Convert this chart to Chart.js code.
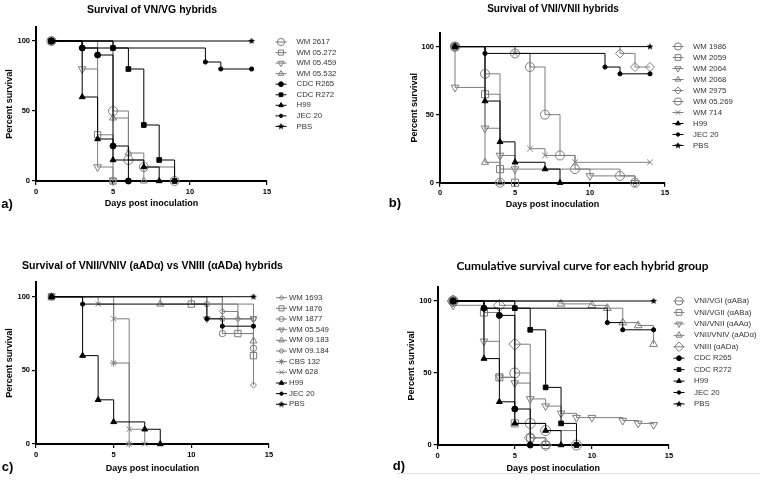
<!DOCTYPE html>
<html>
<head>
<meta charset="utf-8">
<script src="https://cdn.jsdelivr.net/npm/chart.js@4.4.0/dist/chart.umd.min.js"></script>
<style>
  body { margin: 0; background: #fff; }
  #page { position: relative; width: 760px; height: 484px; overflow: hidden; font-family: "Liberation Sans", Arial, sans-serif; }
  #page canvas { position: absolute; left: 0; top: 0; }
  .t { position: absolute; white-space: nowrap; transform: translate(-50%, -50%); font-weight: bold; color: #000; line-height: 1; }
  .rule { position: absolute; left: 396px; top: 473px; width: 364px; height: 0; border-top: 1px solid #e2e2e2; }
</style>
</head>
<body>
<div id="page">
  <canvas id="chartA" width="760" height="484"></canvas>
  <canvas id="chartB" width="760" height="484"></canvas>
  <canvas id="chartC" width="760" height="484"></canvas>
  <canvas id="chartD" width="760" height="484"></canvas>

  <div class="t" style="left:152px;top:8.5px;font-size:10.5px">Survival of VN/VG hybrids</div>
  <div class="t" style="left:553px;top:8.5px;font-size:10px">Survival of VNI/VNII hybrids</div>
  <div class="t" style="left:152.5px;top:265px;font-size:10.5px">Survival of VNII/VNIV (aADα) vs VNIII (αADa) hybrids</div>
  <div class="t" style="left:582.5px;top:266px;font-size:11.9px;font-family:Lato,sans-serif">Cumulative survival curve for each hybrid group</div>

  <div class="t" style="left:7px;top:203px;font-size:13px">a)</div>
  <div class="t" style="left:395px;top:202px;font-size:13px">b)</div>
  <div class="t" style="left:7.5px;top:466px;font-size:13px">c)</div>
  <div class="t" style="left:399px;top:465px;font-size:13px">d)</div>
  <div class="rule"></div>
</div>

<script>
const DAY_TICKS = [0, 5, 10, 15];
const PCT_TICKS = [0, 50, 100];

// [day post inoculation, % survival] -- one pair per step of the curve
// controls, same in every panel
const H99      = [[1, 100], [3, 60], [4, 30], [5, 15], [7, 10], [8, 0]];
const JEC_20   = [[1, 100], [3, 95], [11, 85], [12, 80], [14, 80]];
const PBS      = [[1, 100], [14, 100]];
const CDC_R265 = [[1, 100], [3, 95], [4, 90], [5, 25], [6, 0]];
const CDC_R272 = [[1, 100], [5, 95], [6, 80], [7, 40], [8, 15], [9, 0]];

// a) VN/VG hybrids
const WM_2617   = [[1, 100], [5, 50], [6, 15], [7, 10], [9, 0]];
const WM_05_272 = [[1, 100], [4, 33], [5, 0]];
const WM_05_459 = [[1, 100], [3, 80], [4, 10], [5, 0]];
const WM_05_532 = [[1, 100], [5, 45], [6, 20], [7, 0]];

// b) VNI/VNII hybrids
const WM_1986   = [[1, 100], [3, 80], [4, 0]];
const WM_2059   = [[1, 100], [3, 65], [4, 10], [5, 0]];
const WM_2064   = [[1, 100], [1, 70], [3, 40], [4, 20], [5, 10], [10, 5], [13, 0]];
const WM_2068   = [[1, 100], [3, 15], [4, 0]];
const WM_2975   = [[1, 100], [12, 95], [13, 85], [14, 85]];
const WM_05_269 = [[1, 100], [5, 95], [6, 85], [7, 50], [8, 20], [9, 10], [12, 5], [13, 0]];
const WM_714    = [[1, 100], [5, 95], [6, 25], [7, 20], [9, 15], [14, 15]];

// c) VNII/VNIV vs VNIII hybrids
const WM_1693   = [[1, 100], [12, 90], [13, 85], [14, 40]];
const WM_1876   = [[1, 100], [10, 95], [13, 75], [14, 60]];
const WM_1877   = [[1, 100], [12, 75], [14, 65]];
const WM_05_549 = [[1, 100], [11, 85], [14, 85]];
const WM_09_183 = [[1, 100], [8, 95], [14, 70]];
const WM_09_184 = [[1, 100], [11, 95], [12, 85], [14, 85]];
const CBS_132   = [[1, 100], [5, 55], [6, 0]];
const WM_628    = [[1, 100], [4, 95], [5, 85], [6, 10], [7, 0]];

// d) cumulative per hybrid group
const VNI_VGI   = [[1, 100], [5, 50], [6, 15], [7, 10], [9, 0]];
const VNI_VGII  = [[1, 100], [3, 92], [4, 47], [5, 15], [6, 5], [7, 0]];
const VNI_VNII  = [[1, 100], [1, 97], [3, 72], [4, 47], [5, 43], [6, 32], [7, 27], [8, 22], [9, 19], [10, 19], [12, 17], [13, 15], [14, 14]];
const VNII_VNIV = [[1, 100], [8, 98], [10, 97], [11, 95], [12, 85], [13, 83], [14, 70]];
const VNIII     = [[1, 100], [4, 97], [5, 70], [6, 5], [7, 0]];

const GREY = '#7d7d7d';

function starImage(r) {
  const c = document.createElement('canvas');
  const s = Math.ceil(r * 2 + 2);
  c.width = c.height = s;
  const g = c.getContext('2d');
  g.fillStyle = '#000';
  g.beginPath();
  for (let i = 0; i < 10; i++) {
    const a = -Math.PI / 2 + i * Math.PI / 5;
    const rr = i % 2 ? r * 0.45 : r;
    g.lineTo(s / 2 + rr * Math.cos(a), s / 2 + rr * Math.sin(a));
  }
  g.closePath();
  g.fill();
  return c;
}
const STAR = starImage(3.6);

const open = (shape, r, rot) => ({ shape, r, rot: rot || 0, fill: 'rgba(0,0,0,0)', stroke: GREY });
const solid = (shape, r) => ({ shape, r, rot: 0, fill: '#000', stroke: '#000' });

const CONTROLS = [
  ['H99', H99, solid('triangle', 3.4)],
  ['JEC 20', JEC_20, solid('circle', 2.1)],
  ['PBS', PBS, solid(STAR, 3.6)]
];

const SETS_A = [
  ['WM 2617', WM_2617, open('circle', 4.5)],
  ['WM 05.272', WM_05_272, open('rect', 4.5)],
  ['WM 05.459', WM_05_459, open('triangle', 4.5, 180)],
  ['WM 05.532', WM_05_532, open('triangle', 4)],
  ['CDC R265', CDC_R265, solid('circle', 3)],
  ['CDC R272', CDC_R272, solid('rect', 3.3)],
  ...CONTROLS
];
const SETS_B = [
  ['WM 1986', WM_1986, open('circle', 4.5)],
  ['WM 2059', WM_2059, open('rect', 5)],
  ['WM 2064', WM_2064, open('triangle', 4.5, 180)],
  ['WM 2068', WM_2068, open('triangle', 4)],
  ['WM 2975', WM_2975, open('rectRot', 4.5)],
  ['WM 05.269', WM_05_269, open('circle', 4.5)],
  ['WM 714', WM_714, open('crossRot', 4)],
  ...CONTROLS
];
const SETS_C = [
  ['WM 1693', WM_1693, open('rectRot', 3)],
  ['WM 1876', WM_1876, open('rect', 4.5)],
  ['WM 1877', WM_1877, open('circle', 3.2)],
  ['WM 05.549', WM_05_549, open('triangle', 4, 180)],
  ['WM 09.183', WM_09_183, open('triangle', 4)],
  ['WM 09.184', WM_09_184, open('circle', 2.6)],
  ['CBS 132', CBS_132, open('star', 3.6)],
  ['WM 628', WM_628, open('crossRot', 3.6)],
  ...CONTROLS
];
const SETS_D = [
  ['VNI/VGI (αABa)', VNI_VGI, open('circle', 5)],
  ['VNI/VGII (αABa)', VNI_VGII, open('rect', 5)],
  ['VNI/VNII (αAAα)', VNI_VNII, open('triangle', 4.5, 180)],
  ['VNII/VNIV (aADα)', VNII_VNIV, open('triangle', 4.5)],
  ['VNIII (αADa)', VNIII, open('rectRot', 6)],
  ['CDC R265', CDC_R265, solid('circle', 3)],
  ['CDC R272', CDC_R272, solid('rect', 3.3)],
  ...CONTROLS
];

// legend drawn at a fixed spot right of each plot: line segment, marker, label
const sideLegend = {
  id: 'sideLegend',
  afterDraw(chart, args, o) {
    const ctx = chart.ctx;
    ctx.save();
    ctx.font = '7.8px "Liberation Sans", Arial, sans-serif';
    ctx.textBaseline = 'middle';
    chart.data.datasets.forEach((ds, i) => {
      const y = o.y0 + i * o.step;
      ctx.lineWidth = 1;
      ctx.strokeStyle = ds.borderColor;
      ctx.beginPath();
      ctx.moveTo(o.x - 5.5, y);
      ctx.lineTo(o.x + 5.5, y);
      ctx.stroke();
      ctx.fillStyle = ds.pointBackgroundColor;
      ctx.strokeStyle = ds.pointBorderColor;
      Chart.helpers.drawPoint(ctx, {
        pointStyle: ds.pointStyle, rotation: ds.pointRotation,
        radius: ds.pointRadius * 0.8, borderWidth: 1
      }, o.x, y);
      ctx.fillStyle = '#333';
      ctx.fillText(ds.label, o.tx, y);
    });
    ctx.restore();
  }
};

function toDataset([label, pts, st], i, all) {
  const ctrl = st.stroke === '#000';
  return {
    label,
    data: pts.map(([x, y]) => ({ x, y })),
    order: all.length - i,   // later series (controls) painted on top
    stepped: 'before',
    fill: false,
    clip: false,
    borderColor: ctrl ? '#000' : GREY,
    borderWidth: 1,
    pointStyle: st.shape,
    pointRadius: st.r,
    pointRotation: st.rot,
    pointBackgroundColor: st.fill,
    pointBorderColor: st.stroke,
    pointBorderWidth: 1
  };
}

function axisFont(size) {
  return { family: '"Liberation Sans", Arial, sans-serif', size, weight: 'bold' };
}

function panel(id, sets, g, leg) {
  new Chart(document.getElementById(id), {
    type: 'line',
    data: { datasets: sets.map(toDataset) },
    options: {
      responsive: false,
      animation: false,
      events: [],
      layout: { padding: { left: g.axisLeft, top: g.top, right: 760 - g.right, bottom: 484 - g.bottom - g.xh } },
      scales: {
        x: {
          type: 'linear', min: 0, max: 15,
          afterBuildTicks: s => { s.ticks = DAY_TICKS.map(v => ({ value: v })); },
          afterFit: s => { s.height = g.xh; },
          ticks: { font: axisFont(7.5), color: '#000', padding: 2, maxRotation: 0 },
          grid: { drawOnChartArea: false, tickLength: 4, color: '#000', lineWidth: 1.2 },
          border: { color: '#000', width: 2 },
          title: { display: true, text: 'Days post inoculation', font: axisFont(9), color: '#000', padding: { top: 4, bottom: 4 } }
        },
        y: {
          min: 0, max: 110,
          afterBuildTicks: s => { s.ticks = PCT_TICKS.map(v => ({ value: v })); },
          afterFit: s => { s.width = g.left - g.axisLeft; },
          ticks: { font: axisFont(7.5), color: '#000', padding: 2 },
          grid: { drawOnChartArea: false, tickLength: 4, color: '#000', lineWidth: 1.2 },
          border: { color: '#000', width: 2 },
          title: { display: true, text: 'Percent survival', font: axisFont(9), color: '#000', padding: { top: 4, bottom: 4 } }
        }
      },
      plugins: {
        legend: { display: false },
        tooltip: { enabled: false },
        sideLegend: leg
      }
    },
    plugins: [sideLegend]
  });
}

panel('chartA', SETS_A, { axisLeft: 0.6, left: 36, right: 267, top: 27, bottom: 181, xh: 32.4 },
  { x: 281, tx: 296.5, y0: 42, step: 10.55 });
panel('chartB', SETS_B, { axisLeft: 405.6, left: 440, right: 665, top: 33, bottom: 182.7, xh: 31 },
  { x: 678, tx: 693, y0: 46.5, step: 11.0 });
panel('chartC', SETS_C, { axisLeft: 0.6, left: 36, right: 269, top: 282, bottom: 444, xh: 33.7 },
  { x: 281.5, tx: 289, y0: 297.7, step: 10.66 });
panel('chartD', SETS_D, { axisLeft: 402.3, left: 437.7, right: 669, top: 286.6, bottom: 445, xh: 33.4 },
  { x: 679, tx: 694, y0: 301, step: 11.44 });
</script>
</body>
</html>
